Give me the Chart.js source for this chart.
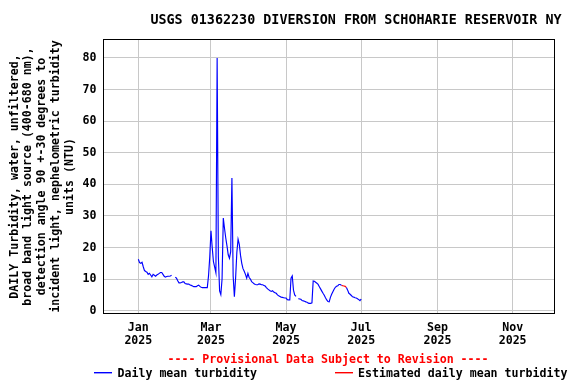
<!DOCTYPE html>
<html><head><meta charset="utf-8">
<script src="https://cdn.jsdelivr.net/npm/chart.js@4.4.1/dist/chart.umd.min.js"></script>
<style>html,body{margin:0;padding:0;background:#fff}canvas{display:block}</style>
</head><body>
<canvas id="c" width="576" height="384"></canvas>
<script>
const titleText = 'USGS 01362230 DIVERSION FROM SCHOHARIE RESERVOIR NY';
const yAxisTitle = [
  'DAILY Turbidity, water, unfiltered,',
  'broad band light source (400-680 nm),',
  'detection angle 90 +-30 degrees to',
  'incident light, nephelometric turbidity',
  'units (NTU)'
];
const provisionalText = '---- Provisional Data Subject to Revision ----';
const seriesNames = ['Daily mean turbidity', 'Estimated daily mean turbidity'];
const seriesColors = ['#0000ff', '#ff0000'];

// daily mean values, index = days since 2025-01-01 (null = missing)
const dailyMean = [
  16.3, 15.2, 15.0, 15.3, 13.9, 12.7, 12.4, 12.2, 11.5, 11.8,
  11.3, 10.7, 11.5, 11.2, 10.9, 11.3, 11.5, 11.8, 12.1, 12.1,
  11.5, 10.9, 10.6, 10.8, 10.9, 10.9, 11.0, 11.2, null, null,
  10.6, 10.3, 9.5, 8.8, 8.8, 8.9, 9.1, 9.1, 8.6, 8.5,
  8.4, 8.4, 8.1, 8.0, 7.8, 7.6, 7.6, 7.6, 7.9, 8.1,
  7.7, 7.4, 7.3, 7.3, 7.3, 7.3, 7.3, 11.0, 17.0, 25.3,
  20.0, 15.5, 13.8, 12.0, 80.0, 17.0, 6.3, 5.1, 10.0, 29.3,
  26.0, 23.0, 20.5, 17.7, 16.6, 18.7, 42.0, 11.0, 4.4, 10.3,
  18.4, 22.6, 21.0, 17.5, 15.0, 13.3, 12.5, 11.5, 10.3, 11.8,
  10.5, 10.0, 9.2, 8.9, 8.5, 8.3, 8.2, 8.2, 8.5, 8.4,
  8.2, 8.2, 8.0, 7.8, 7.3, 6.9, 6.6, 6.3, 6.1, 6.3,
  5.9, 5.7, 5.5, 5.0, 4.7, 4.5, 4.3, 4.2, 4.1, 4.0,
  4.0, 3.5, 3.4, 3.4, 10.3, 11.0, 6.5, 5.0, 4.5, null,
  3.8, 3.7, 3.6, 3.2, 3.1, 3.0, 2.8, 2.7, 2.4, 2.3,
  2.3, 2.5, 9.4, 9.3, 9.0, 8.7, 8.3, 7.6, 6.9, 6.2,
  5.5, 4.9, 4.1, 3.4, 2.9, 2.8, 4.2, 5.2, 6.0, 6.8,
  7.4, 7.7, 7.9, 8.3, 8.3, 8.0, null, null, null, 7.3,
  6.5, 5.5, 5.2, 4.8, 4.4, 4.3, 4.1, 4.0, 3.8, 3.5,
  3.2, 3.7
];
const estimatedDays = [165, 166, 167, 168, 169];
const estimatedValues = [8.0, 7.9, 7.8, 7.7, 7.3];

const xTickDays = [0, 59, 120, 181, 243, 304];
const xTickLabels = [['Jan','2025'], ['Mar','2025'], ['May','2025'], ['Jul','2025'], ['Sep','2025'], ['Nov','2025']];
const yTickValues = [0, 10, 20, 30, 40, 50, 60, 70, 80];

const FONT = 'DejaVu Sans Mono';
const gridColor = '#c8c8c8';

const blueData = dailyMean.map((v, i) => ({x: i, y: v}));
const redData = estimatedDays.map((d, i) => ({x: d, y: estimatedValues[i]}));

const decor = {
  id: 'decor',
  afterDraw(chart) {
    const {ctx, chartArea: a} = chart;
    ctx.save();
    ctx.strokeStyle = '#000';
    ctx.lineWidth = 1;
    const l = Math.round(a.left) + 0.5, t = Math.round(a.top) + 0.5;
    const r = Math.round(a.right) - 0.5, b = Math.round(a.bottom) - 0.5;
    ctx.strokeRect(l, t, r - l, b - t);

    ctx.textBaseline = 'middle';
    ctx.textAlign = 'center';
    ctx.fillStyle = '#000';
    ctx.font = 'bold 13.4px "' + FONT + '"';
    ctx.fillText(titleText, 356, 20.5);

    ctx.font = 'bold 11.6px "' + FONT + '"';
    ctx.fillStyle = '#ff0000';
    ctx.fillText(provisionalText, 328, 360);

    // legend
    ctx.textAlign = 'left';
    ctx.fillStyle = seriesColors[0];
    ctx.fillRect(94, 372, 18, 1.4);
    ctx.fillStyle = seriesColors[1];
    ctx.fillRect(335, 372, 18, 1.4);
    ctx.fillStyle = '#000';
    ctx.fillText(seriesNames[0], 117.5, 374);
    ctx.fillText(seriesNames[1], 358, 374);
    ctx.restore();
  }
};

new Chart(document.getElementById('c'), {
  type: 'line',
  data: {
    datasets: [
      {label: seriesNames[0], data: blueData, borderColor: seriesColors[0], borderWidth: 1.15,
       pointRadius: 0, tension: 0, spanGaps: false, fill: false},
      {label: seriesNames[1], data: redData, borderColor: seriesColors[1], borderWidth: 1.15,
       pointRadius: 0, tension: 0, spanGaps: false, fill: false}
    ]
  },
  options: {
    responsive: false,
    animation: false,
    devicePixelRatio: 1,
    layout: {padding: {top: 39, right: 21, left: 0, bottom: 0}},
    plugins: {legend: {display: false}, tooltip: {enabled: false}, title: {display: false}},
    scales: {
      x: {
        type: 'linear',
        min: -28.7, max: 338.4,
        afterFit: s => { s.height = 70; },
        afterBuildTicks: s => { s.ticks = xTickDays.map(v => ({value: v})); },
        grid: {color: gridColor, lineWidth: 1, drawTicks: false},
        border: {display: false},
        ticks: {
          autoSkip: false, maxRotation: 0, minRotation: 0, padding: 7.5, color: '#000',
          font: {family: FONT, size: 11.6, weight: 'bold', lineHeight: 1.12},
          callback: (v, i) => xTickLabels[i]
        }
      },
      y: {
        type: 'linear',
        min: -1.05, max: 86.0,
        afterFit: s => { s.width = 103; },
        afterBuildTicks: s => { s.ticks = yTickValues.map(v => ({value: v})); },
        grid: {color: gridColor, lineWidth: 1, drawTicks: false},
        border: {display: false},
        ticks: {
          padding: 6.5, color: '#000',
          font: {family: FONT, size: 11.6, weight: 'bold'},
          callback: v => String(v)
        },
        title: {
          display: true, text: yAxisTitle, color: '#000',
          font: {family: FONT, size: 11.6, weight: 'bold', lineHeight: 1.19},
          padding: {top: 7.6, bottom: 0}
        }
      }
    }
  },
  plugins: [decor]
});
</script>
</body></html>
